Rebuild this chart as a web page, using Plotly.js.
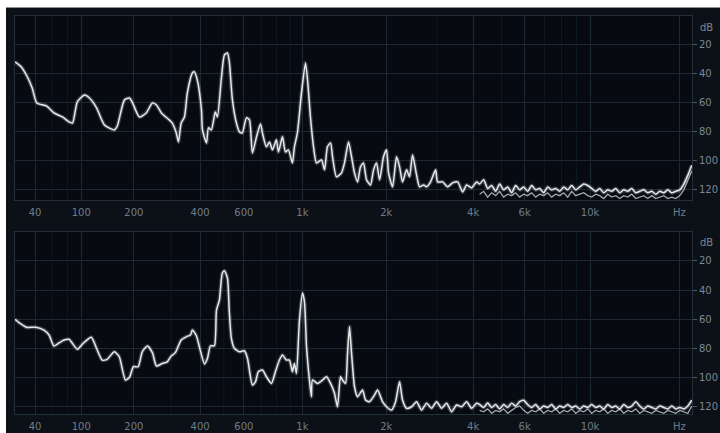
<!DOCTYPE html>
<html>
<head>
<meta charset="utf-8">
<script src="https://cdn.plot.ly/plotly-3.0.1.min.js"></script>
<style>
  html, body { margin:0; padding:0; background:#ffffff; width:720px; height:433px; overflow:hidden; }
  #topline { position:absolute; left:6px; top:7px; width:714px; height:1px; background:#8f9296; }
  #plot { position:absolute; left:6px; top:8px; width:714px; height:425px; }
</style>
</head>
<body>
<div id="topline"></div>
<div id="plot"></div>
<script>
// ---- Data (frequency in Hz, level in dB) ----
const tickFreq = [40, 100, 200, 400, 600, 1000, 2000, 4000, 6000, 10000, 20000];
const tickText = ['40', '100', '200', '400', '600', '1k', '2k', '4k', '6k', '10k', 'Hz'];
const minorFreq = [60, 80, 300, 500, 700, 800, 900, 3000, 5000, 7000, 8000, 9000];
const dbTicks = [-20, -40, -60, -80, -100, -120];
const dbText = ['20', '40', '60', '80', '100', '120'];

const topFreq = [20,26,32,37,42,53,62,73,82,87,
  94,105,113,125,139,158,164,179,190,196,
  213,230,246,257,271,294,303,316,323,332,
  343,353,371,378,389,405,409,425,433,445,
  462,471,489,503,517,526,541,561,577,592,
  614,631,648,672,696,708,733,753,773,800,
  814,843,865,887,918,934,958,992,1026,1044,
  1070,1098,1126,1174,1204,1234,1266,1287,1330,1386,
  1421,1469,1506,1543,1582,1621,1661,1703,1759,1803,
  1847,1893,1955,2003,2036,2103,2172,2225,2279,2354,
  2411,2470,2551,2613,2698,2764,2853,2970,3017,3140,
  3268,3399,3538,3680,3799,3952,4112];
const topDb = [-31.7,-35.2,-42.1,-49.7,-60.0,-62.1,-66.9,-69.7,-73.1,-73.8,
  -59.3,-54.5,-56.6,-63.4,-75.2,-78.6,-75.9,-57.9,-56.6,-59.3,
  -69.7,-66.9,-60.0,-61.4,-66.9,-71.7,-73.8,-80.7,-86.9,-73.8,
  -69.7,-53.1,-39.3,-38.6,-44.1,-64.8,-78.6,-87.6,-77.2,-78.6,
  -66.2,-69.7,-42.8,-26.9,-25.5,-31.7,-57.9,-73.8,-80.0,-80.7,
  -70.3,-71.7,-94.5,-83.4,-74.5,-80.7,-90.3,-86.9,-92.4,-85.5,
  -93.8,-83.4,-93.8,-92.4,-101.4,-90.3,-80.7,-53.1,-32.4,-44.1,
  -69.7,-90.3,-101.4,-99.3,-106.2,-90.3,-87.6,-97.2,-111.0,-108.3,
  -101.4,-86.9,-97.2,-108.3,-114.5,-104.1,-101.4,-113.1,-116.6,-106.2,
  -101.4,-113.1,-97.2,-92.4,-108.3,-117.9,-97.2,-104.1,-114.5,-106.2,
  -111.0,-95.9,-109.7,-117.9,-116.6,-117.9,-114.5,-106.2,-114.5,-114.5,
  -117.9,-115.2,-114.5,-121.4,-116.6,-118.6,-114.5];

const bottomFreq = [20,24,31,41,50,56,62,69,75,82,
  94,102,116,125,135,144,158,168,181,190,
  199,210,220,233,246,257,274,288,300,313,
  332,350,364,371,386,397,417,429,441,458,
  467,480,493,503,517,526,536,551,577,603,
  620,648,666,683,708,733,766,793,821,843,
  872,895,918,934,950,975,1000,1017,1035,1061,
  1079,1088,1135,1184,1224,1266,1308,1341,1375,1398,
  1433,1457,1481,1506,1543,1582,1648,1689,1745,1817,
  1862,1939,2003,2086,2155,2225,2279,2354,2451,2551,
  2655,2764,2876,2993,3115,3241,3373,3509,3651,3799,
  3952,4112];
const bottomDb = [-60.2,-62.6,-65.7,-65.7,-67.6,-71.0,-78.6,-76.3,-74.5,-74.0,
  -80.9,-77.2,-72.6,-80.2,-88.3,-87.8,-82.6,-86.0,-102.1,-100.2,
  -92.9,-92.9,-82.6,-78.6,-83.2,-92.4,-90.6,-89.5,-85.5,-83.2,
  -74.5,-72.2,-71.0,-67.6,-71.7,-79.1,-91.0,-87.1,-78.6,-78.4,
  -53.8,-46.9,-28.5,-26.7,-31.9,-55.0,-73.3,-80.2,-82.6,-81.9,
  -87.1,-105.5,-103.2,-96.3,-95.2,-99.8,-104.4,-96.3,-88.3,-84.8,
  -88.3,-88.3,-96.3,-90.6,-97.5,-60.7,-42.0,-48.1,-79.1,-102.1,
  -113.6,-102.1,-104.4,-102.1,-99.8,-104.4,-111.2,-120.5,-99.8,-102.1,
  -104.4,-83.7,-65.3,-83.7,-106.7,-113.6,-109.0,-115.9,-117.0,-112.4,
  -109.0,-117.0,-120.5,-122.8,-117.0,-103.2,-115.9,-121.6,-120.5,-117.0,
  -122.8,-118.1,-121.6,-117.0,-121.6,-118.1,-123.9,-119.3,-120.5,-117.0,
  -121.6,-118.1];

// high-frequency noise floor region (shared frequencies)
const noiseFreq = [4210,4345,4485,4628,4776,4929,5087,5250,5417,5590,
  5768,5952,6142,6337,6539,6747,6961,7184,7411,7647,
  7889,8139,8398,8664,8939,9222,9514,9816,10126,10447,
  10777,11118,11471,11832,12206,12591,12989,13401,13822,14259,
  14708,15173,15653,16145,16655,17179,17720,18281,18855,19450,
  20061,20693,21347,22017];
const topNoise = [-116,-113,-119,-117,-121,-116,-120,-118,-122,-117,
  -120,-118,-121,-117,-120,-119,-122,-118,-120,-119,
  -121,-118,-120,-117,-120,-118,-116,-117,-119,-121,
  -119,-122,-120,-121,-119,-122,-120,-121,-119,-122,
  -121,-120,-122,-121,-123,-121,-122,-120,-122,-121,
  -120,-116,-110,-103];
const topNoiseLow = [-123,-121,-125,-122,-124,-121,-125,-123,-124,-122,
  -125,-123,-124,-122,-125,-123,-124,-122,-125,-123,
  -124,-122,-125,-121,-124,-123,-122,-124,-125,-123,
  -124,-126,-123,-125,-124,-126,-124,-125,-123,-126,
  -125,-124,-126,-124,-126,-125,-124,-126,-125,-126,
  -124,-120,-113,-107];
const bottomNoise = [-119,-121,-118,-121,-119,-122,-119,-121,-118,-120,
  -117,-116,-119,-121,-119,-122,-120,-121,-119,-122,
  -120,-121,-119,-121,-120,-122,-120,-121,-119,-121,
  -120,-122,-119,-121,-120,-122,-119,-121,-120,-117,
  -120,-122,-120,-121,-122,-120,-121,-122,-120,-122,
  -121,-122,-120,-116];
const bottomNoiseLow = [-123,-124,-122,-125,-123,-124,-122,-125,-123,-121,
  -120,-123,-125,-123,-124,-122,-125,-123,-124,-122,
  -125,-123,-124,-122,-125,-123,-124,-122,-125,-123,
  -124,-122,-125,-123,-124,-122,-125,-123,-124,-122,
  -125,-123,-124,-125,-123,-124,-125,-123,-124,-125,
  -123,-124,-125,-120];

// ---- Frequency scale of the analyser: log10(f + 100) ----
const T = f => Math.log10(f + 100);

const topX = topFreq.concat(noiseFreq).map(T);
const topY = topDb.concat(topNoise);
const botX = bottomFreq.concat(noiseFreq).map(T);
const botY = bottomDb.concat(bottomNoise);

const glow = {color:'rgba(165,172,180,0.33)', width:4, shape:'spline', smoothing:0.6};
const main = {color:'#e6e8ea', width:1.5, shape:'spline', smoothing:0.6};
const low = {color:'#a3a8ad', width:1.3};

const traces = [
  {x: noiseFreq.map(T), y: topNoiseLow, xaxis:'x', yaxis:'y', mode:'lines', line:low, hoverinfo:'skip'},
  {x: topX, y: topY, xaxis:'x', yaxis:'y', mode:'lines', line:glow, hoverinfo:'skip'},
  {x: topX, y: topY, xaxis:'x', yaxis:'y', mode:'lines', line:main},
  {x: noiseFreq.map(T), y: bottomNoiseLow, xaxis:'x2', yaxis:'y2', mode:'lines', line:low, hoverinfo:'skip'},
  {x: botX, y: botY, xaxis:'x2', yaxis:'y2', mode:'lines', line:glow, hoverinfo:'skip'},
  {x: botX, y: botY, xaxis:'x2', yaxis:'y2', mode:'lines', line:main}
];

const gridCol = '#1c2933';
const lineCol = '#223039';
const xRange = [T(20), T(22050)];

function xAxis(anchor) {
  return {
    anchor: anchor, domain:[0,1], type:'linear', range: xRange,
    tickvals: tickFreq.map(T), ticktext: tickText,
    showgrid:true, gridcolor:gridCol, gridwidth:1, zeroline:false,
    showline:true, linecolor:lineCol, mirror:true, ticks:'',
    ticklabelstandoff:3, tickfont:{size:10, color:'#6f7d88'}, fixedrange:true
  };
}
function yAxis(anchor, domain, lo) {
  return {
    anchor: anchor, domain: domain, side:'right', range:[lo, 0],
    tickvals: dbTicks, ticktext: dbText, ticks:'outside', ticklen:4, tickcolor:'#4a5761',
    showgrid:true, gridcolor:gridCol, gridwidth:1, zeroline:false,
    showline:true, linecolor:lineCol, mirror:true,
    tickfont:{size:10, color:'#7a8893'}, fixedrange:true
  };
}

const shapes = [];
[['x','y domain'], ['x2','y2 domain']].forEach(([xr, yr]) => {
  minorFreq.forEach(f => {
    shapes.push({type:'line', xref:xr, yref:yr, x0:T(f), x1:T(f), y0:0, y1:1,
      line:{color:'#10181f', width:1}, layer:'below'});
  });
});

const layout = {
  width:714, height:425,
  paper_bgcolor:'#0c1017', plot_bgcolor:'#070a10',
  margin:{l:9, r:28, t:8, b:19},
  showlegend:false,
  font:{family:'DejaVu Sans, Verdana, sans-serif', size:10, color:'#74828d'},
  xaxis: xAxis('y'),
  yaxis: yAxis('x', [0.5377, 1], -127),
  xaxis2: xAxis('y2'),
  yaxis2: yAxis('x2', [0, 0.4573], -125.5),
  shapes: shapes,
  annotations: [
    {text:'dB', xref:'paper', yref:'paper', x:1.022, y:0.972, showarrow:false,
     xanchor:'center', yanchor:'middle', font:{size:10, color:'#7a8893'}},
    {text:'dB', xref:'paper', yref:'paper', x:1.022, y:0.432, showarrow:false,
     xanchor:'center', yanchor:'middle', font:{size:10, color:'#7a8893'}}
  ]
};

Plotly.newPlot('plot', traces, layout, {displayModeBar:false, staticPlot:true});
</script>
</body>
</html>
